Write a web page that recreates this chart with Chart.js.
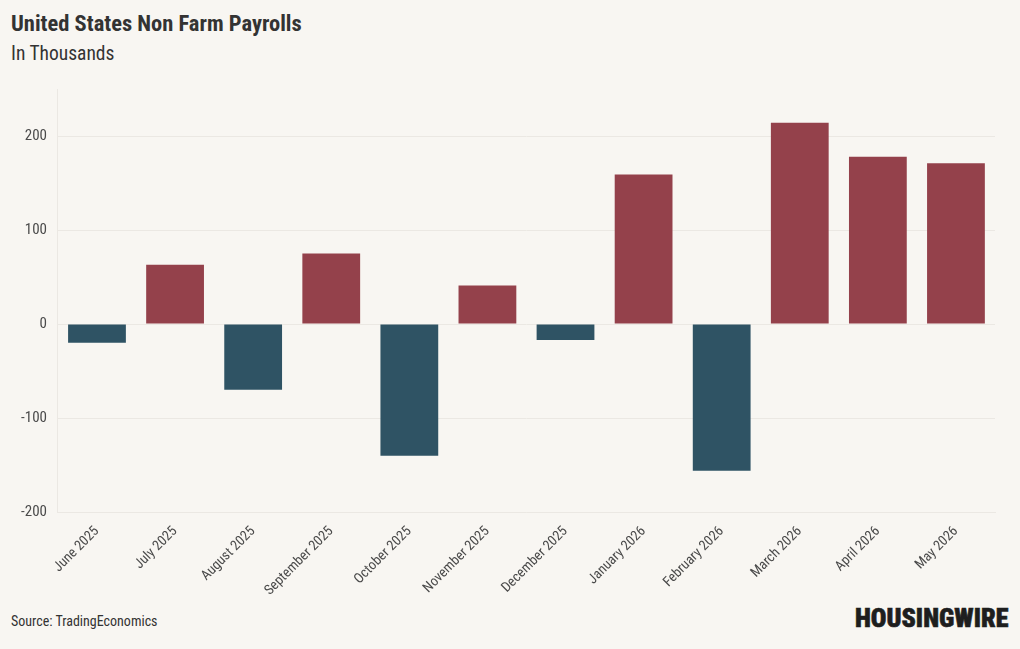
<!DOCTYPE html>
<html>
<head>
<meta charset="utf-8">
<script src="https://cdn.jsdelivr.net/npm/chart.js@4/dist/chart.umd.min.js"></script>
<style>
  html, body { margin: 0; padding: 0; background: #f8f6f2; }
  body { width: 1020px; height: 649px; position: relative; overflow: hidden;
         font-family: "Roboto Condensed", "Liberation Sans Narrow", Roboto, sans-serif; color: #333; }
  .title { position: absolute; left: 11px; top: 10px; font-size: 22.5px; font-weight: 700; color: #333; }
  .subtitle { position: absolute; left: 11px; top: 42px; font-size: 19.5px; color: #333; }
  .chart-wrap { position: absolute; left: 0; top: 69px; width: 1020px; height: 533px; }
  .source { position: absolute; left: 11px; top: 613px; font-size: 14px; color: #333; }
  .logo { position: absolute; left: 855px; top: 603px; font-size: 26px; font-weight: 900; color: #1e1e1e;
          -webkit-text-stroke: 0.6px #1e1e1e; }
</style>
</head>
<body>
<div class="title">United States Non Farm Payrolls</div>
<div class="subtitle">In Thousands</div>
<div class="chart-wrap"><canvas id="chart"></canvas></div>
<div class="source">Source: TradingEconomics</div>
<div class="logo">HOUSINGWIRE</div>
<script>
const months = ['June 2025', 'July 2025', 'August 2025', 'September 2025', 'October 2025', 'November 2025',
  'December 2025', 'January 2026', 'February 2026', 'March 2026', 'April 2026', 'May 2026'];
const payrolls = [-20, 63, -70, 75, -140, 41, -17, 159, -156, 214, 178, 171];
const yTicks = [-200, -100, 0, 100, 200];

const positiveColor = '#94414b';
const negativeColor = '#2f5364';
const textColor = '#4a4a4a';
const gridColor = '#ebe8e3';
const fontFamily = '"Roboto Condensed", "Liberation Sans Narrow", Roboto, sans-serif';

new Chart(document.getElementById('chart').getContext('2d'), {
  type: 'bar',
  data: {
    labels: months,
    datasets: [{
      data: payrolls,
      backgroundColor: payrolls.map(v => v >= 0 ? positiveColor : negativeColor),
      categoryPercentage: 0.74,
      barPercentage: 1,
      borderWidth: 0,
    }],
  },
  options: {
    responsive: true,
    maintainAspectRatio: false,
    animation: false,
    layout: { padding: { left: 10, right: 25, top: 16, bottom: 0 } },
    plugins: {
      legend: { display: false },
      tooltip: { enabled: false },
    },
    scales: {
      x: {
        grid: { display: false },
        border: { color: gridColor },
        ticks: {
          color: textColor,
          maxRotation: 45,
          minRotation: 45,
          font: { family: fontFamily, size: 14 },
        },
      },
      y: {
        min: -200,
        max: 250,
        afterBuildTicks: axis => { axis.ticks = yTicks.map(v => ({ value: v })); },
        grid: { color: gridColor, drawTicks: false },
        border: { color: gridColor },
        ticks: {
          color: textColor,
          padding: 11,
          font: { family: fontFamily, size: 15 },
        },
      },
    },
  },
});
</script>
</body>
</html>
